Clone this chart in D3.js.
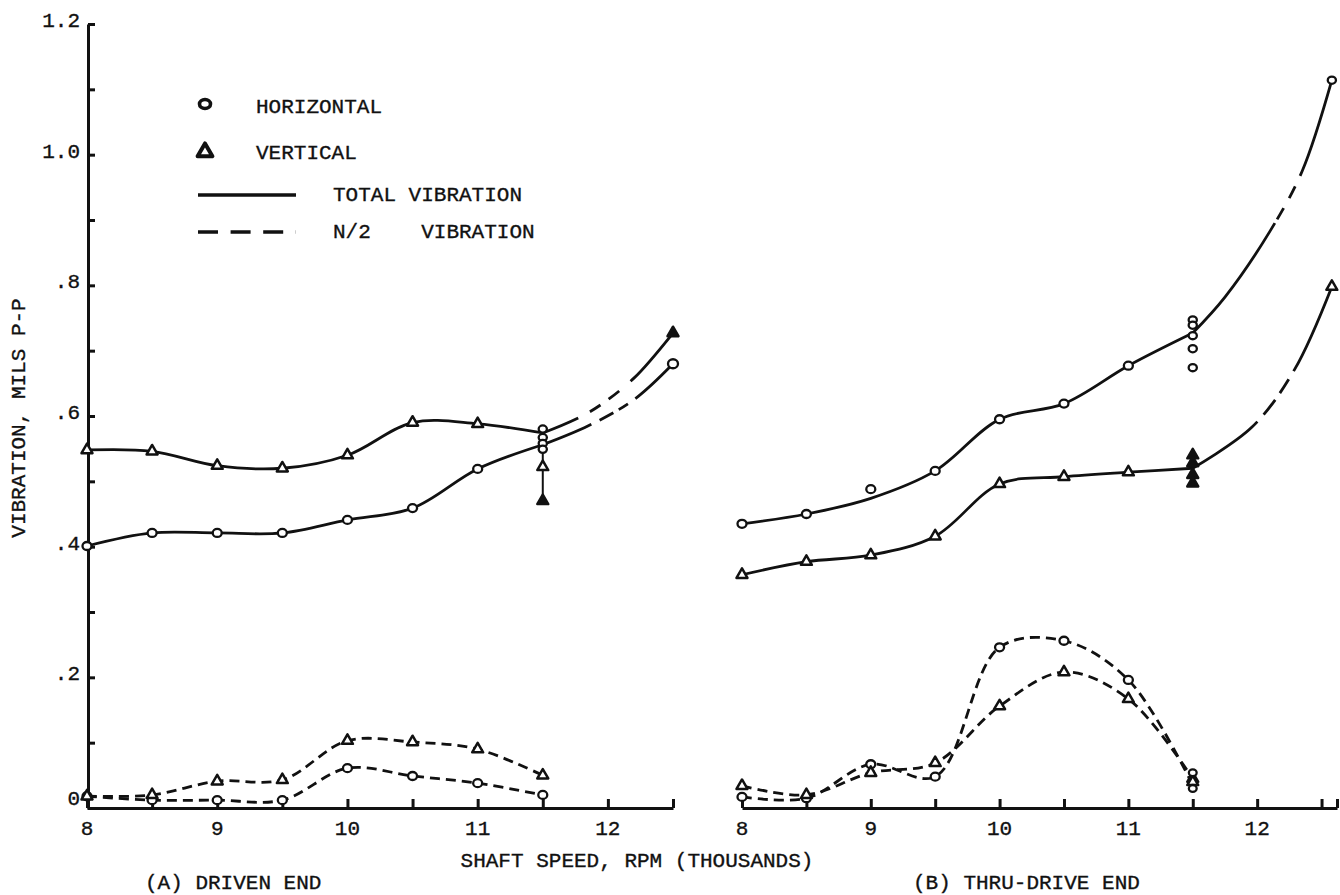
<!DOCTYPE html>
<html><head><meta charset="utf-8">
<script src="https://cdn.jsdelivr.net/npm/d3@7"></script>
<style>
html,body{margin:0;padding:0;background:#fff;}
text{font-family:"Liberation Mono","DejaVu Sans Mono",monospace;fill:#111;font-size:21px;stroke:#111;stroke-width:0.35px;}
</style></head><body>
<svg id="chart" width="1340" height="895"></svg>
<script>
// ---------- DATA ----------
const speeds = [8, 8.5, 9, 9.5, 10, 10.5, 11, 11.5];
// Panel A: driven end
const aTotalHoriz = [0.401, 0.421, 0.421, 0.421, 0.441, 0.459, 0.519, 0.556];
const aTotalVert  = [0.548, 0.546, 0.524, 0.520, 0.540, 0.590, 0.588, 0.574];
const aHalfHoriz  = [0.018, 0.012, 0.012, 0.012, 0.061, 0.049, 0.038, 0.020];
const aHalfVert   = [0.018, 0.020, 0.041, 0.043, 0.103, 0.101, 0.090, 0.050];
const aExtSpeeds  = [11.5, 11.85, 12.2, 12.5];
const aExtHoriz   = [0.556, 0.585, 0.625, 0.680];
const aExtVert    = [0.574, 0.605, 0.658, 0.727];
const aHoriz115   = [0.580, 0.567, 0.558, 0.549];
const aVert115    = [0.522];
const aVert115Filled = [0.470];
const aRange115   = [0.556, 0.470];
// Panel B: thru-drive end
const bTotalHoriz      = [0.435, 0.450, 0.474, 0.516, 0.595, 0.619, 0.677, 0.727];
const bTotalHorizMarks = [0.435, 0.450, 0.488, 0.516, 0.595, 0.619, 0.677];
const bTotalVert       = [0.357, 0.377, 0.387, 0.416, 0.496, 0.507, 0.514, 0.520];
const bHalfHoriz       = [0.017, 0.015, 0.067, 0.048, 0.246, 0.256, 0.196, 0.035];
const bHalfVert        = [0.034, 0.020, 0.054, 0.069, 0.156, 0.208, 0.167, 0.045];
const bHoriz115        = [0.747, 0.739, 0.723, 0.703, 0.674];
const bVert115         = [0.540, 0.528, 0.510, 0.497];
const bHalfHoriz115    = [0.054, 0.030];
const bHalfVert115     = [0.045, 0.040];
const bExtHorizSpeeds  = [11.5, 11.75, 12.1, 12.35, 12.58];
const bExtHoriz        = [0.727, 0.782, 0.883, 0.975, 1.114];
const bExtVertSpeeds   = [11.5, 11.96, 12.29, 12.58];
const bExtVert         = [0.520, 0.583, 0.671, 0.798];
// axes / text
const yTicks = [0, 0.1, 0.2, 0.3, 0.4, 0.5, 0.6, 0.7, 0.8, 0.9, 1.0, 1.1, 1.2];
const yLabelValues = [0, 0.2, 0.4, 0.6, 0.8, 1.0, 1.2];
const yLabels = ["0", ".2", ".4", ".6", ".8", "1.0", "1.2"];
const xTicks = [8, 8.5, 9, 9.5, 10, 10.5, 11, 11.5, 12, 12.5];
const xLabels = [8, 9, 10, 11, 12];
const legendItems = ["HORIZONTAL", "VERTICAL", "TOTAL VIBRATION", "N/2    VIBRATION"];
const yTitle = "VIBRATION, MILS P-P";
const xTitle = "SHAFT SPEED, RPM (THOUSANDS)";
const panelTitles = ["(A) DRIVEN END", "(B) THRU-DRIVE END"];

// ---------- SCALES ----------
const svg = d3.select("#chart");
const y = d3.scaleLinear().domain([0, 1.2]).range([808, 24]);
const xA = d3.scaleLinear().domain([8, 12.5]).range([87, 673]);
const xB = d3.scaleLinear().domain([8, 12.62]).range([742, 1337]);
const ink = "#111";

// ---------- AXES ----------
const yAxis = svg.append("g").attr("transform", "translate(88,0)")
  .call(d3.axisRight(y).tickValues(yTicks).tickSize(7).tickSizeOuter(0).tickFormat(""));
yAxis.selectAll("path,line").attr("stroke", ink).attr("stroke-width", 3);

svg.append("g").selectAll("text").data(yLabelValues).join("text")
  .attr("x", 80).attr("y", d => y(d) + (d === 0 ? -3 : 3)).attr("text-anchor", "end")
  .text((d, i) => yLabels[i]);

function xAxis(sc, ticks) {
  const g = svg.append("g").attr("transform", "translate(0,808)")
    .call(d3.axisTop(sc).tickValues(ticks).tickSize(9).tickSizeOuter(0).tickFormat(""));
  g.selectAll("path,line").attr("stroke", ink).attr("stroke-width", 3);
  svg.append("g").selectAll("text").data(xLabels).join("text")
    .attr("x", d => sc(d)).attr("y", 835).attr("text-anchor", "middle").text(d => d);
}
xAxis(xA, xTicks);
xAxis(xB, xTicks.concat([12.62]));

svg.append("text").attr("transform", "translate(25,418) rotate(-90)")
  .attr("text-anchor", "middle").text(yTitle);
svg.append("text").attr("x", 637).attr("y", 867).attr("text-anchor", "middle").text(xTitle);
svg.append("text").attr("x", 145).attr("y", 889).text(panelTitles[0]);
svg.append("text").attr("x", 913).attr("y", 889).text(panelTitles[1]);

// ---------- LINES ----------
function drawCurve(sc, xs, ys, dash) {
  const line = d3.line().x(d => sc(d[0])).y(d => y(d[1])).curve(d3.curveCatmullRom.alpha(0.5));
  const p = svg.append("path").datum(d3.zip(xs, ys)).attr("d", line)
    .attr("fill", "none").attr("stroke", ink).attr("stroke-width", 2.8)
    .attr("stroke-linecap", "round");
  if (dash === "n2") p.attr("stroke-dasharray", "10,6").attr("stroke-linecap", "butt");
  else if (Array.isArray(dash)) {
    const L = p.node().getTotalLength();
    p.attr("stroke-dasharray", dash.map(f => f * L).join(",")).attr("stroke-linecap", "butt");
  }
  return p;
}
// panel A
drawCurve(xA, speeds, aTotalHoriz);
drawCurve(xA, speeds, aTotalVert);
drawCurve(xA, speeds, aHalfHoriz, "n2");
drawCurve(xA, speeds, aHalfVert, "n2");
drawCurve(xA, aExtSpeeds, aExtHoriz, [0.34, 0.06, 0.1, 0.04, 0.07, 0.06, 1]);
drawCurve(xA, aExtSpeeds, aExtVert, [0.23, 0.08, 0.075, 0.06, 0.08, 0.09, 1]);
// panel B
drawCurve(xB, speeds, bTotalHoriz);
drawCurve(xB, speeds, bTotalVert);
drawCurve(xB, speeds, bHalfHoriz, "n2");
drawCurve(xB, speeds, bHalfVert, "n2");
drawCurve(xB, bExtHorizSpeeds, bExtHoriz, [0.47, 0.015, 0.045, 0.04, 0.045, 0.04, 1]);
drawCurve(xB, bExtVertSpeeds, bExtVert, [0.34, 0.04, 0.08, 0.035, 0.07, 0.04, 1]);

// range bar at 11.5 panel A
svg.append("line").attr("x1", xA(11.5)).attr("x2", xA(11.5))
  .attr("y1", y(aRange115[0])).attr("y2", y(aRange115[1]))
  .attr("stroke", ink).attr("stroke-width", 2);

// ---------- MARKERS ----------
const tri = d3.symbol(d3.symbolTriangle).size(52)();
const triBig = d3.symbol(d3.symbolTriangle).size(95)();
function circles(sc, xs, ys, r = 4) {
  svg.append("g").selectAll("ellipse").data(d3.zip(xs, ys)).join("ellipse")
    .attr("cx", d => sc(d[0])).attr("cy", d => y(d[1])).attr("rx", r + 0.5).attr("ry", r)
    .attr("fill", "#fff").attr("stroke", ink).attr("stroke-width", 2.3);
}
function triangles(sc, xs, ys, filled) {
  svg.append("g").selectAll("path").data(d3.zip(xs, ys)).join("path")
    .attr("d", tri).attr("transform", d => `translate(${sc(d[0])},${y(d[1])})`)
    .attr("fill", filled ? ink : "#fff").attr("stroke", ink).attr("stroke-width", 2.5)
    .attr("stroke-linejoin", "round");
}
const rep = (v, n) => Array(n).fill(v);
// panel A
circles(xA, speeds.slice(0, 7), aTotalHoriz.slice(0, 7));
triangles(xA, speeds.slice(0, 7), aTotalVert.slice(0, 7));
circles(xA, speeds, aHalfHoriz);
triangles(xA, speeds, aHalfVert);
circles(xA, rep(11.5, aHoriz115.length), aHoriz115, 3.6);
triangles(xA, rep(11.5, aVert115.length), aVert115);
triangles(xA, rep(11.5, aVert115Filled.length), aVert115Filled, true);
circles(xA, [12.5], [aExtHoriz[aExtHoriz.length - 1]], 4.5);
triangles(xA, [12.5], [aExtVert[aExtVert.length - 1]], true);
// panel B
circles(xB, speeds.slice(0, 7), bTotalHorizMarks);
triangles(xB, speeds.slice(0, 7), bTotalVert.slice(0, 7));
circles(xB, speeds.slice(0, 7), bHalfHoriz.slice(0, 7));
triangles(xB, speeds.slice(0, 7), bHalfVert.slice(0, 7));
circles(xB, rep(11.5, bHoriz115.length), bHoriz115, 3.6);
triangles(xB, rep(11.5, bVert115.length), bVert115, true);
triangles(xB, rep(11.5, bHalfVert115.length), bHalfVert115);
circles(xB, rep(11.5, bHalfHoriz115.length), bHalfHoriz115, 3.4);
circles(xB, [12.58], [bExtHoriz[bExtHoriz.length - 1]], 3.6);
triangles(xB, [12.58], [bExtVert[bExtVert.length - 1]]);

// ---------- LEGEND ----------
const lg = svg.append("g");
lg.append("ellipse").attr("cx", 205).attr("cy", 104).attr("rx", 5.5).attr("ry", 4.5)
  .attr("fill", "#fff").attr("stroke", ink).attr("stroke-width", 3.6);
lg.append("path").attr("d", triBig).attr("transform", "translate(205,152)")
  .attr("fill", "#fff").attr("stroke", ink).attr("stroke-width", 4).attr("stroke-linejoin", "round");
lg.append("line").attr("x1", 198).attr("x2", 296).attr("y1", 195).attr("y2", 195)
  .attr("stroke", ink).attr("stroke-width", 3.4);
lg.append("line").attr("x1", 198).attr("x2", 296).attr("y1", 232).attr("y2", 232)
  .attr("stroke", ink).attr("stroke-width", 3.4).attr("stroke-dasharray", "20,12.6");
const lgX = [256, 256, 333, 333], lgY = [113, 159, 201, 238];
lg.selectAll("text").data(legendItems).join("text")
  .attr("x", (d, i) => lgX[i]).attr("y", (d, i) => lgY[i])
  .attr("xml:space", "preserve").style("white-space", "pre").text(d => d);
</script>
</body></html>
